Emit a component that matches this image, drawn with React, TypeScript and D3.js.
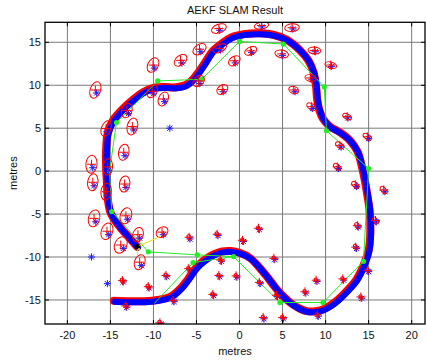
import React from 'react';
import * as d3 from 'd3';

// estimated vehicle path (blue), true path drawn in red underneath
const vehiclePath: [number, number][] = [
  [-14.6, -15.1], [-13, -15.15], [-11, -15.15], [-9.5, -15], [-8, -14.6], [-6.8, -13.6],
  [-6, -12.6], [-5, -11.2], [-4, -10.3], [-3, -9.7], [-2, -9.35], [-1, -9.3], [0, -9.5],
  [1.2, -10.1], [2.2, -11.1], [3.2, -12.3], [4.2, -13.6], [5, -14.5], [6, -15.4], [7, -16.0],
  [7.8, -16.3], [8.8, -16.3], [9.7, -16.1], [10.6, -15.6], [11.4, -15], [12.6, -13.8],
  [13.6, -12.6], [14.4, -11], [15, -9.2], [15.2, -7], [15.1, -4.5], [14.8, -2.5], [14.5, -0.8],
  [14.2, 0.6], [13.7, 2.3], [12.8, 3.6], [11.7, 4.5], [10.5, 5.2], [9.7, 6.1], [9.2, 7.4],
  [9.0, 8.5], [8.9, 9.8], [8.6, 11.5], [8.0, 12.9], [7.0, 14.1], [5.5, 15.3], [4, 15.85],
  [2.4, 16.05], [0.5, 15.95], [-0.9, 15.6], [-2, 14.9], [-3.1, 14.0], [-3.9, 12.8],
  [-4.7, 11.6], [-5.5, 10.6], [-6.3, 10.0], [-7.5, 9.75], [-8.7, 9.8], [-10, 9.7],
  [-11.2, 9.2], [-12.4, 8.3], [-13.6, 7.2], [-14.7, 5.9], [-15.3, 4.5], [-15.5, 2.5],
  [-15.5, 0.5], [-15.4, -1.5], [-15.3, -3.3], [-15, -4.8], [-14.5, -5.7], [-13.9, -6.5],
  [-13.3, -7.2], [-12.6, -8], [-11.9, -8.8],
];

const waypoints: [number, number][] = [
  [-9.9, -15.4], [-5.4, -10.65], [-0.7, -9.95], [4.7, -15.3], [9.7, -15.3], [14.4, -10.5],
  [15.0, 0.3], [10.1, 4.7], [9.85, 9.8], [5.1, 14.8], [0, 15.1], [-4.4, 10.7], [-9.5, 10.5],
  [-14.3, 5.65], [-15.1, 0], [-14.85, -4.7], [-10.6, -9.4], [-4.9, -9.75], [-0.7, -9.95],
];

const vehiclePos: [number, number] = [-11.9, -8.8];
const observations: [number, number][] = [[-9.2, -7.6], [-11.85, -9.9]];

// true landmark positions (last three never observed)
const trueLandmarks: [number, number][] = [
  [-16.6, 9.1], [-12.9, 6.7], [-9.9, 12.0], [-6.7, 12.6], [-10.0, 9.0], [-8.7, 8.1],
  [-4.5, 13.9], [-2.3, 16.4], [-2.2, 14.1], [-4.6, 10.2], [-1.9, 9.25], [-0.5, 12.6],
  [1.4, 13.8], [2.6, 16.8], [6.2, 16.55], [5.0, 13.45], [8.8, 13.9], [10.7, 12.2],
  [8.4, 10.7], [6.45, 9.25], [8.5, 7.3], [12.6, 6.2], [15.0, 3.8], [11.8, 2.8],
  [11.5, 0.3], [13.6, -1.8], [16.9, -2.4], [15.9, -5.9], [13.8, -6.5], [13.6, -9.0],
  [15.0, -11.7], [12.1, -12.7], [9.0, -12.85], [7.7, -14.2], [14.2, -14.8], [9.15, -16.9],
  [5.1, -17.2], [2.85, -17.2], [4.4, -14.6], [4.1, -10.3], [2.4, -13.1], [-0.3, -12.35],
  [-2.3, -12.3], [-2.1, -10.5], [0.45, -8.2], [2.3, -6.8], [-2.5, -7.5], [-3.0, -14.5],
  [-5.75, -7.9], [-5.8, -11.5], [-8.45, -12.3], [-7.6, -15.2], [-9.15, -17.8], [-10.5, -13.6],
  [-13.5, -12.9], [-13.1, -15.85], [-11.4, -11.0], [-13.5, -9.0], [-11.6, -7.8], [-8.85, -7.4],
  [-15.2, -7.4], [-16.7, -5.9], [-13.0, -5.6], [-15.35, -2.8], [-16.9, -1.7], [-13.2, -1.9],
  [-17.05, 0.4], [-15.2, 0.1], [-13.3, 1.8], [-12.3, 4.8], [-15.4, 4.6],
  [-8.1, 5.0], [-17.2, -10.0], [-15.35, -13.1],
];

const estLandmarks: [number, number][] = [
  [-16.75, 9.45], [-13.1, 7.05], [-10.05, 12.35], [-6.85, 12.9], [-10.15, 9.3], [-8.85, 8.4],
  [-4.65, 14.2], [-2.4, 16.6], [-2.3, 14.3], [-4.75, 10.5], [-2.0, 9.5], [-0.6, 12.85],
  [1.3, 14.0], [2.55, 16.95], [6.1, 16.7], [4.9, 13.65], [8.7, 14.05], [10.6, 12.35],
  [8.25, 10.85], [6.3, 9.45], [8.35, 7.5], [12.5, 6.35], [14.85, 4.0], [11.65, 3.0],
  [11.35, 0.5], [13.45, -1.6], [16.75, -2.2], [15.8, -5.75], [13.7, -6.35], [13.5, -8.85],
  [14.9, -11.55], [12.0, -12.55], [8.9, -12.7], [7.6, -14.05], [14.1, -14.65], [9.05, -16.75],
  [5.0, -17.05], [2.75, -17.05], [4.3, -14.45], [4.0, -10.15], [2.3, -12.95], [-0.4, -12.2],
  [-2.4, -12.15], [-2.2, -10.35], [0.35, -8.05], [2.2, -6.65], [-2.6, -7.35], [-3.1, -14.35],
  [-5.85, -7.7], [-5.9, -11.35], [-8.55, -12.15], [-7.7, -15.05], [-9.25, -17.65], [-10.6, -13.45],
  [-13.6, -12.75], [-13.2, -15.7], [-11.6, -10.6], [-13.8, -8.6], [-11.8, -7.4], [-9.0, -7.1],
  [-15.4, -7.0], [-16.9, -5.5], [-13.2, -5.2], [-15.5, -2.4], [-17.05, -1.3], [-13.35, -1.5],
  [-17.2, 0.8], [-15.3, 0.5], [-13.45, 2.2], [-12.45, 5.2], [-15.5, 4.95],
];

// covariance ellipses: semi-axis x, semi-axis y (metres), rotation (deg)
const covEllipses: [number, number, number][] = [
  [0.6, 1.0, 20], [0.6, 0.85, 20], [0.6, 0.9, 30], [0.55, 0.85, 50], [0.55, 0.8, 30], [0.55, 0.85, 25],
  [0.55, 0.85, 55], [0.5, 0.9, 70], [0.45, 0.85, 65], [0.55, 0.75, 50], [0.5, 0.7, 55], [0.5, 0.75, 55],
  [0.45, 0.75, 65], [0.4, 0.85, 80], [0.45, 0.85, 85], [0.45, 0.8, 100], [0.4, 0.75, 95], [0.35, 0.7, 105],
  [0.4, 0.65, 100], [0.4, 0.6, 110], [0.35, 0.6, 125], [0.3, 0.55, 120], [0.3, 0.55, 125], [0.3, 0.55, 125],
  [0.3, 0.5, 130], [0.3, 0.5, 135], [0.28, 0.5, 140], [0.25, 0.45, 145], [0.25, 0.4, 145], [0.22, 0.35, 150],
  [0.2, 0.3, 150], [0.18, 0.28, 150], [0.18, 0.28, 150], [0.18, 0.28, 150], [0.18, 0.28, 150], [0.18, 0.28, 150],
  [0.18, 0.28, 150], [0.18, 0.28, 150], [0.18, 0.28, 150], [0.18, 0.28, 150], [0.18, 0.28, 150], [0.18, 0.28, 150],
  [0.18, 0.28, 150], [0.18, 0.28, 150], [0.18, 0.28, 150], [0.18, 0.28, 150], [0.2, 0.3, 150], [0.2, 0.3, 150],
  [0.22, 0.32, 150], [0.2, 0.3, 150], [0.2, 0.3, 150], [0.2, 0.3, 150], [0.2, 0.3, 150], [0.22, 0.32, 150],
  [0.22, 0.32, 150], [0.22, 0.32, 150], [0.6, 0.9, 20], [0.7, 1.0, 25], [0.6, 0.85, 20], [0.55, 0.75, 55],
  [0.65, 1.0, 20], [0.65, 1.0, 15], [0.65, 0.95, 20], [0.6, 1.0, 8], [0.6, 1.0, 8], [0.6, 0.95, 10],
  [0.65, 1.05, 5], [0.55, 0.95, 5], [0.6, 0.95, 12], [0.6, 1.0, 15], [0.55, 0.95, 20],
];

const xTicks = [-20, -15, -10, -5, 0, 5, 10, 15, 20];
const yTicks = [-15, -10, -5, 0, 5, 10, 15];

const W = 427;
const H = 360;
const plot = { left: 45, right: 425, top: 22.3, bottom: 324 };
const font = "'Liberation Sans', Arial, Helvetica, sans-serif";

const App: React.FC = () => {
  const x = d3.scaleLinear().domain([-22.6, 21.55]).range([plot.left, plot.right]);
  const y = d3.scaleLinear().domain([-17.8, 17.33]).range([plot.bottom, plot.top]);
  const kx = x(1) - x(0);
  const ky = y(0) - y(1);

  const smooth = d3.line<[number, number]>().x(d => x(d[0])).y(d => y(d[1])).curve(d3.curveCatmullRom);
  const straight = d3.line<[number, number]>().x(d => x(d[0])).y(d => y(d[1]));

  const star = (cx: number, cy: number, s: number, key: string) => {
    const d = s * 0.72;
    return (
      <g key={key} stroke="#1a1aff" strokeWidth={1}>
        <line x1={cx - s} y1={cy} x2={cx + s} y2={cy} />
        <line x1={cx} y1={cy - s} x2={cx} y2={cy + s} />
        <line x1={cx - d} y1={cy - d} x2={cx + d} y2={cy + d} />
        <line x1={cx - d} y1={cy + d} x2={cx + d} y2={cy - d} />
      </g>
    );
  };

  return (
    <svg width={W} height={H} style={{ position: 'absolute', left: 0, top: 0, background: '#fff' }}>
      <rect x={0} y={0} width={W} height={H} fill="#fff" />
      <defs>
        <clipPath id="plotclip">
          <rect x={plot.left} y={plot.top} width={plot.right - plot.left} height={plot.bottom - plot.top} />
        </clipPath>
      </defs>

      {/* grid */}
      <g stroke="#7a7a7a" strokeWidth={1}>
        {xTicks.map(t => (
          <line key={'gx' + t} x1={x(t)} x2={x(t)} y1={plot.top} y2={plot.bottom} />
        ))}
        {yTicks.map(t => (
          <line key={'gy' + t} x1={plot.left} x2={plot.right} y1={y(t)} y2={y(t)} />
        ))}
      </g>

      <g clipPath="url(#plotclip)">
        {/* true path (red) and estimated path (blue) */}
        <path d={smooth(vehiclePath) || ''} fill="none" stroke="#ff0000" strokeWidth={8}
          strokeLinejoin="round" strokeLinecap="round" />
        <path d={smooth(vehiclePath) || ''} fill="none" stroke="#0000ff" strokeWidth={6}
          strokeLinejoin="round" strokeLinecap="round" transform="translate(0.8,0.9)" />

        {/* waypoints */}
        <path d={straight(waypoints) || ''} fill="none" stroke="#22ee22" strokeWidth={1} />
        {waypoints.slice(1, -1).map((p, i) => (
          <circle key={'wp' + i} cx={x(p[0])} cy={y(p[1])} r={2.6} fill="#22ee22" />
        ))}

        {/* true landmarks */}
        {trueLandmarks.map((p, i) => star(x(p[0]), y(p[1]), 3.6, 'lt' + i))}

        {/* estimated landmarks with covariance */}
        {estLandmarks.map((p, i) => {
          const cx = x(p[0]);
          const cy = y(p[1]);
          const [rx, ry, ang] = covEllipses[i];
          return (
            <g key={'le' + i} stroke="#ff0000" fill="none" strokeWidth={1}>
              <ellipse cx={cx} cy={cy} rx={rx * kx} ry={ry * ky} transform={`rotate(${ang} ${cx} ${cy})`} />
              <line x1={cx - 4.5} x2={cx + 4.5} y1={cy} y2={cy} />
              <line x1={cx} x2={cx} y1={cy - 4.5} y2={cy + 4.5} />
            </g>
          );
        })}

        {/* observations */}
        {observations.map((p, i) => (
          <line key={'ob' + i} x1={x(vehiclePos[0])} y1={y(vehiclePos[1])} x2={x(p[0])} y2={y(p[1])}
            stroke="#f2e600" strokeWidth={1} />
        ))}
        <circle cx={x(vehiclePos[0])} cy={y(vehiclePos[1])} r={2.6} fill="#000" />
        <circle cx={x(vehiclePos[0]) + 2} cy={y(vehiclePos[1]) + 2.5} r={1.2} fill="#e8b000" />
      </g>

      {/* ticks */}
      <g stroke="#000" strokeWidth={1}>
        {xTicks.map(t => (
          <g key={'tx' + t}>
            <line x1={x(t)} x2={x(t)} y1={plot.bottom} y2={plot.bottom - 4} />
            <line x1={x(t)} x2={x(t)} y1={plot.top} y2={plot.top + 4} />
          </g>
        ))}
        {yTicks.map(t => (
          <g key={'ty' + t}>
            <line x1={plot.left} x2={plot.left + 4} y1={y(t)} y2={y(t)} />
            <line x1={plot.right} x2={plot.right - 4} y1={y(t)} y2={y(t)} />
          </g>
        ))}
      </g>
      <rect x={plot.left} y={plot.top} width={plot.right - plot.left} height={plot.bottom - plot.top}
        fill="none" stroke="#000" strokeWidth={1.3} />

      {/* tick labels */}
      <g fontFamily={font} fontSize={11} fill="#111">
        {xTicks.map(t => (
          <text key={'lx' + t} x={x(t)} y={339} textAnchor="middle">{t}</text>
        ))}
        {yTicks.map(t => (
          <text key={'ly' + t} x={41} y={y(t) + 4} textAnchor="end">{t}</text>
        ))}
        <text x={(plot.left + plot.right) / 2} y={355} textAnchor="middle">metres</text>
        <text transform={`translate(17,${(plot.top + plot.bottom) / 2}) rotate(-90)`} textAnchor="middle">metres</text>
        <text x={(plot.left + plot.right) / 2} y={14} textAnchor="middle">AEKF SLAM Result</text>
      </g>
    </svg>
  );
};

export default App;
